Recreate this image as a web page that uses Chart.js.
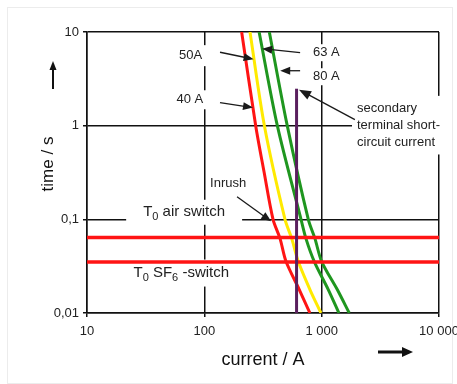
<!DOCTYPE html>
<html>
<head>
<meta charset="utf-8">
<script src="https://cdn.jsdelivr.net/npm/chart.js@4"></script>
<style>
html, body { margin: 0; padding: 0; background: #fff; }
#chart { display: block; }
</style>
</head>
<body>
<canvas id="chart" width="457" height="384"></canvas>
<script>
// axis ticks
var currentTicks = [10, 100, 1000, 10000];
var currentTickLabels = ['10', '100', '1 000', '10 000'];
var timeTicks = [0.01, 0.1, 1, 10];
var timeTickLabels = ['0,01', '0,1', '1', '10'];

// fuse curves (current in A, time in s)
var fuse40Current = [208, 274, 323, 385, 442, 497, 644, 794];
var fuse40Time = [10, 1, 0.32, 0.1, 0.0622, 0.0354, 0.0178, 0.01];
var fuse50Current = [245, 325, 487, 556, 632, 794, 986];
var fuse50Time = [10, 1, 0.1, 0.0622, 0.0354, 0.0178, 0.01];
var fuse63Current = [293, 419, 667, 735, 865, 1138, 1403];
var fuse63Time = [10, 1, 0.1, 0.0622, 0.0354, 0.0178, 0.01];
var fuse80Current = [358, 509, 769, 877, 1000, 1358, 1718];
var fuse80Time = [10, 1, 0.1, 0.0622, 0.0354, 0.0178, 0.01];

// secondary terminal short-circuit current
var shortCircuitCurrent = [611, 611];
var shortCircuitTime = [0.01, 2.48];

// switch times T0
var switchCurrent = [10, 10000];
var airSwitchTime = [0.064, 0.064];
var sf6SwitchTime = [0.035, 0.035];

var FONT = '"Liberation Sans", Arial, sans-serif';
var INK = '#1a1a1a';

function pts(xs, ys) {
    var out = [];
    xs.forEach(function (x, i) { out.push({ x: x, y: ys[i] }); });
    return out;
}

// annotations in data coordinates (current, time)
var notes = [
    { lines: ['50A'], at: [95.7, 5.59], align: 'right', size: 13, pad: [4, 4] },
    { lines: ['40 A'], at: [97.8, 1.89], align: 'right', size: 13, pad: [4, 3] },
    { lines: ['63 A'], at: [843, 6.01], align: 'left', size: 13, pad: [5, 2] },
    { lines: ['80 A'], at: [843, 3.33], align: 'left', size: 13, pad: [5, 2] },
    { lines: ['secondary', 'terminal short-', 'circuit current'], at: [2000, 1.53], align: 'left', size: 13, lh: 16.8, pad: [5, 6] },
    { lines: ['Inrush'], at: [112, 0.24], align: 'left', size: 13, pad: [4, 2] },
    { parts: [['T'], ['0', 1], [' air switch']], at: [30.1, 0.119], align: 'left', size: 15, pad: [17, 5] },
    { parts: [['T'], ['0', 1], [' SF'], ['6', 1], [' -switch']], at: [24.9, 0.0267], align: 'left', size: 15, pad: [8, 6] }
];

var arrows = [
    { from: [136, 6.08], to: [263, 5.13] },
    { from: [136, 1.76], to: [260, 1.56] },
    { from: [655, 6.01], to: [311, 6.64] },
    { from: [655, 3.86], to: [443, 3.86] },
    { from: [1919, 1.16], to: [641, 2.42], head: 12 },
    { from: [190, 0.1746], to: [371, 0.0953] }
];

function measureNote(ctx, n) {
    var w = 0;
    if (n.parts) {
        n.parts.forEach(function (p) {
            ctx.font = (p[1] ? Math.round(n.size * 0.7) : n.size) + 'px ' + FONT;
            w += ctx.measureText(p[0]).width;
        });
    } else {
        ctx.font = n.size + 'px ' + FONT;
        n.lines.forEach(function (l) { w = Math.max(w, ctx.measureText(l).width); });
    }
    return w;
}

function noteBox(chart, n) {
    var xs = chart.scales.x, ys = chart.scales.y;
    var ctx = chart.ctx;
    var px = xs.getPixelForValue(n.at[0]);
    var py = ys.getPixelForValue(n.at[1]);
    var w = measureNote(ctx, n);
    var left = n.align === 'right' ? px - w : px;
    var count = n.lines ? n.lines.length : 1;
    var lh = n.lh || n.size;
    var top = py - n.size / 2;
    var bottom = py + (count - 1) * lh + n.size / 2;
    return { px: px, py: py, left: left, w: w, top: top, bottom: bottom, lh: lh };
}

function drawArrow(ctx, x1, y1, x2, y2, head, half, lw) {
    var a = Math.atan2(y2 - y1, x2 - x1);
    var c = Math.cos(a), s = Math.sin(a);
    ctx.lineWidth = lw;
    ctx.beginPath();
    ctx.moveTo(x1, y1);
    ctx.lineTo(x2 - c * head * 0.7, y2 - s * head * 0.7);
    ctx.stroke();
    ctx.beginPath();
    ctx.moveTo(x2, y2);
    ctx.lineTo(x2 - c * head - s * half, y2 - s * head + c * half);
    ctx.lineTo(x2 - c * head + s * half, y2 - s * head - c * half);
    ctx.closePath();
    ctx.fill();
}

var overlay = {
    id: 'overlay',
    beforeDraw: function (chart) {
        var ctx = chart.ctx;
        ctx.save();
        ctx.fillStyle = '#fff';
        ctx.fillRect(0, 0, chart.width, chart.height);
        ctx.strokeStyle = '#ececec';
        ctx.lineWidth = 1;
        ctx.strokeRect(7.5, 7.5, chart.width - 12, chart.height - 8);
        ctx.restore();
    },
    beforeDatasetsDraw: function (chart) {
        // white boxes behind the labels cut the grid lines
        var ctx = chart.ctx;
        ctx.save();
        ctx.fillStyle = '#fff';
        notes.forEach(function (n) {
            var b = noteBox(chart, n);
            ctx.fillRect(b.left - n.pad[0], b.top - n.pad[1], b.w + 2 * n.pad[0], b.bottom - b.top + 2 * n.pad[1]);
        });
        ctx.restore();
    },
    afterDatasetsDraw: function (chart) {
        var ctx = chart.ctx;
        var xs = chart.scales.x, ys = chart.scales.y;
        var ca = chart.chartArea;
        ctx.save();
        ctx.fillStyle = INK;
        ctx.strokeStyle = INK;

        arrows.forEach(function (a) {
            drawArrow(ctx,
                xs.getPixelForValue(a.from[0]), ys.getPixelForValue(a.from[1]),
                xs.getPixelForValue(a.to[0]), ys.getPixelForValue(a.to[1]),
                a.head || 10, (a.head || 10) * 0.4, 1.3);
        });

        ctx.fillStyle = '#222';
        ctx.textBaseline = 'middle';
        notes.forEach(function (n) {
            var b = noteBox(chart, n);
            if (n.parts) {
                var x = b.left;
                n.parts.forEach(function (p) {
                    var sub = p[1];
                    ctx.font = (sub ? Math.round(n.size * 0.7) : n.size) + 'px ' + FONT;
                    ctx.textAlign = 'left';
                    ctx.fillText(p[0], x, b.py + (sub ? n.size * 0.3 : 0));
                    x += ctx.measureText(p[0]).width;
                });
            } else {
                ctx.font = n.size + 'px ' + FONT;
                ctx.textAlign = 'left';
                n.lines.forEach(function (l, i) {
                    ctx.fillText(l, b.left, b.py + i * b.lh);
                });
            }
        });

        // y axis title and the axis arrows
        ctx.save();
        ctx.translate(ca.left - 39, ca.top + 132);
        ctx.rotate(-Math.PI / 2);
        ctx.font = '17px ' + FONT;
        ctx.textAlign = 'center';
        ctx.fillStyle = '#111';
        ctx.fillText('time / s', 0, 0);
        ctx.restore();

        ctx.fillStyle = '#111';
        ctx.strokeStyle = '#111';
        drawArrow(ctx, ca.left - 34, ca.top + 57, ca.left - 34, ca.top + 29, 9, 3.5, 2);
        drawArrow(ctx, ca.left + 291, ca.bottom + 39, ca.left + 326, ca.bottom + 39, 11, 5, 3);
        ctx.restore();
    }
};

function lineSet(xs, ys, color, width, tension) {
    return {
        data: pts(xs, ys),
        showLine: true,
        borderColor: color,
        backgroundColor: color,
        borderWidth: width,
        pointRadius: 0,
        fill: false,
        tension: tension
    };
}

var grid = { color: '#111', lineWidth: 1.5, tickLength: 4, drawTicks: true, tickColor: '#111' };

new Chart(document.getElementById('chart'), {
    type: 'scatter',
    data: {
        datasets: [
            lineSet(shortCircuitCurrent, shortCircuitTime, '#5a1f5e', 3, 0),
            lineSet(switchCurrent, airSwitchTime, '#ff1414', 3.5, 0),
            lineSet(switchCurrent, sf6SwitchTime, '#ff1414', 3.5, 0),
            lineSet(fuse80Current, fuse80Time, '#1f961f', 3, 0.3),
            lineSet(fuse63Current, fuse63Time, '#1f961f', 3, 0.3),
            lineSet(fuse50Current, fuse50Time, '#ffea00', 3, 0.3),
            lineSet(fuse40Current, fuse40Time, '#ff1414', 3, 0.3)
        ]
    },
    options: {
        responsive: false,
        animation: false,
        layout: { padding: { top: 32, right: 18, left: 0, bottom: 0 } },
        scales: {
            x: {
                type: 'logarithmic',
                min: 10,
                max: 10000,
                afterBuildTicks: function (s) { s.ticks = currentTicks.map(function (v) { return { value: v }; }); },
                // "10 000" runs off the right edge in the original
                afterFit: function (s) { s.height = 71; s.paddingRight = 0; s.paddingLeft = 0; },
                ticks: {
                    autoSkip: false,
                    maxRotation: 0,
                    padding: 7,
                    color: '#222',
                    font: { size: 13, family: FONT },
                    callback: function (v, i) { return currentTickLabels[i]; }
                },
                grid: grid,
                border: { color: '#111', width: 1.5 },
                title: { display: true, text: 'current / A', color: '#111', font: { size: 18, family: FONT }, padding: { top: 0, bottom: 13 } }
            },
            y: {
                type: 'logarithmic',
                min: 0.01,
                max: 10,
                afterBuildTicks: function (s) { s.ticks = timeTicks.map(function (v) { return { value: v }; }); },
                afterFit: function (s) { s.width = 87; s.paddingTop = 0; s.paddingBottom = 0; },
                ticks: {
                    autoSkip: false,
                    padding: 4,
                    color: '#222',
                    font: { size: 13, family: FONT },
                    callback: function (v, i) { return timeTickLabels[i]; }
                },
                grid: grid,
                border: { color: '#111', width: 1.5 }
            }
        },
        plugins: {
            legend: { display: false },
            tooltip: { enabled: false }
        }
    },
    plugins: [overlay]
});
</script>
</body>
</html>
